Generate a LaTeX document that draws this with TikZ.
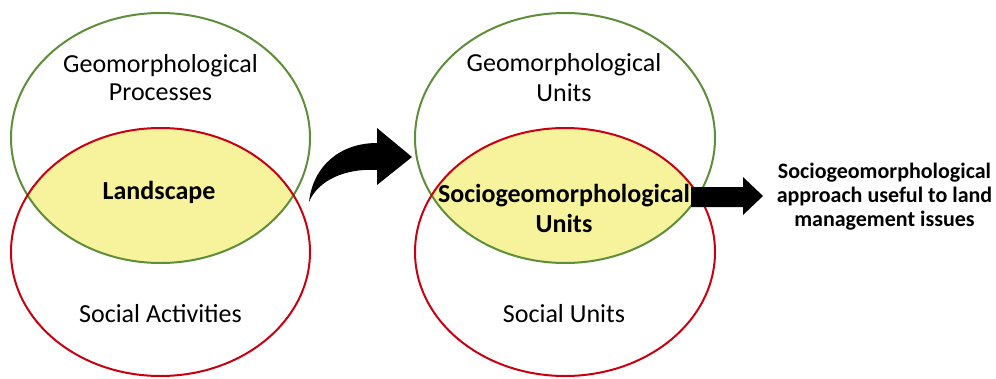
\documentclass[tikz,border=0pt]{standalone}
\usepackage{fontspec}
\setmainfont{Carlito}
\definecolor{vgreen}{HTML}{5E8E3A}
\definecolor{vred}{HTML}{C80010}
\definecolor{vyellow}{HTML}{F7F39D}
\tikzset{
  greenring/.style={draw=vgreen, line width=2pt},
  redring/.style={draw=vred, line width=2pt},
  lbl/.style={inner sep=0pt, anchor=base, align=center, font=\fontsize{26}{28}\selectfont},
  boldlbl/.style={lbl, font=\fontsize{26}{30}\selectfont\bfseries},
  sidelbl/.style={inner sep=0pt, anchor=base, align=center, font=\fontsize{22}{24}\selectfont\bfseries},
  arrowshape/.style={fill=black, draw=none}
}
\begin{document}
\begin{tikzpicture}[x=1pt,y=-1pt]
\useasboundingbox (0,0) rectangle (996,378);
% left venn
\begin{scope}
  \clip (160.5,138) ellipse [x radius=149.5, y radius=125];
  \fill[vyellow] (160.5,252) ellipse [x radius=149.5, y radius=124];
\end{scope}
\draw[greenring] (160.5,138) ellipse [x radius=149.5, y radius=125];
\draw[redring] (160.5,252) ellipse [x radius=149.5, y radius=124];
% right venn
\begin{scope}
  \clip (565,138) ellipse [x radius=150, y radius=125];
  \fill[vyellow] (565,252) ellipse [x radius=150, y radius=124];
\end{scope}
\draw[greenring] (565,138) ellipse [x radius=150, y radius=125];
\draw[redring] (565,252) ellipse [x radius=150, y radius=124];
% labels
\node[lbl] (gp1) at (160.5,72) {Geomorphological};
\node[lbl] (gp2) at (160.5,100) {Processes};
\node[boldlbl] (land) at (159,199) {Landscape};
\node[lbl] (sa) at (160.5,322) {Social Activities};
\node[lbl] (gu1) at (564,71) {Geomorphological};
\node[lbl] (gu2) at (564,101) {Units};
\node[boldlbl] (su1) at (564,202) {Sociogeomorphological};
\node[boldlbl] (su2) at (564,232) {Units};
\node[lbl] (soc) at (564,322) {Social Units};
\node[sidelbl] (r1) at (884.5,178) {Sociogeomorphological};
\node[sidelbl] (r2) at (884.5,202) {approach useful to land};
\node[sidelbl] (r3) at (884.5,226) {management issues};
% curved arrow
\fill[arrowshape] (309,202) .. controls (313,166) and (340,143) .. (377,143)
  -- (377,128) -- (412,157) -- (377,185) -- (377,170)
  .. controls (346,168) and (318,180) .. (309,202) -- cycle;
% straight arrow
\fill[arrowshape] (691,187) -- (743,187) -- (743,177) -- (763,196)
  -- (743,215) -- (743,207) -- (691,207) -- cycle;
\end{tikzpicture}
\end{document}
